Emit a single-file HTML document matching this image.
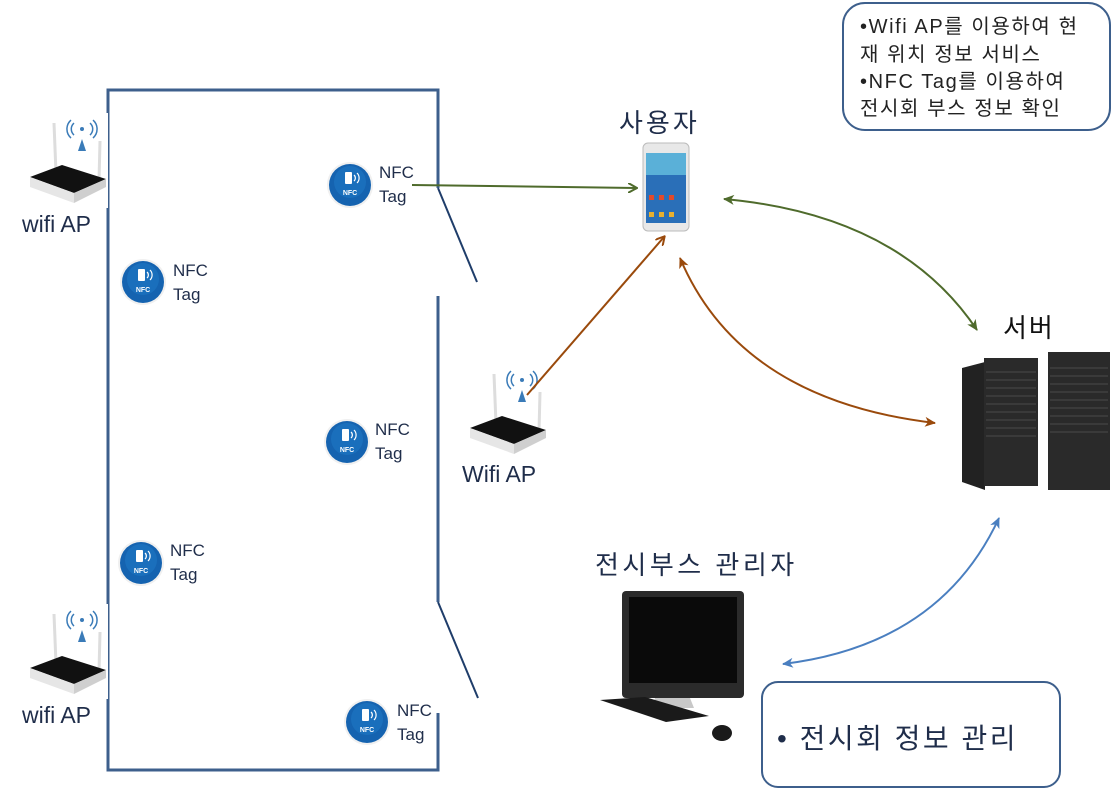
<!DOCTYPE html>
<html><head><meta charset="utf-8"><style>
html,body{margin:0;padding:0;background:#fff;}
svg{display:block;font-family:"Liberation Sans","Noto Sans CJK KR",sans-serif;}
</style></head><body>
<svg width="1115" height="812" viewBox="0 0 1115 812" xmlns="http://www.w3.org/2000/svg">
<defs>
<g id="router">
  <rect x="0" y="0" width="100" height="95" fill="#fff"/>
  <line x1="46" y1="10" x2="48" y2="60" stroke="#ddd" stroke-width="3"/>
  <line x1="92" y1="28" x2="91" y2="68" stroke="#ddd" stroke-width="3"/>
  <path d="M22 64 L54 52 L98 66 L66 80 Z" fill="#111"/>
  <path d="M22 64 L66 80 L66 90 L22 74 Z" fill="#e6e6e6"/>
  <path d="M66 80 L98 66 L98 74 L66 90 Z" fill="#cfcfcf"/>
  <path d="M70 38 L74 26 L78 38 Z" fill="#3a7bb8"/>
  <path d="M66 22 a8 8 0 0 1 0 -12 M82 10 a8 8 0 0 1 0 12 M63 25 a12 12 0 0 1 0 -18 M85 7 a12 12 0 0 1 0 18" fill="none" stroke="#3a7bb8" stroke-width="1.5"/>
  <circle cx="74" cy="16" r="2" fill="#3a7bb8"/>
</g>
<g id="nfc">
  <circle cx="0" cy="0" r="23" fill="#f0f0f0"/>
  <circle cx="0" cy="0" r="21" fill="#1563b0"/>
  <circle cx="0" cy="-3" r="16" fill="#1e78c4" opacity="0.6"/>
  <rect x="-5" y="-13" width="7" height="12" rx="1" fill="#fff"/>
  <path d="M4 -10 a4 4 0 0 1 0 6 M7 -12 a7 7 0 0 1 0 10" stroke="#fff" fill="none" stroke-width="1.2"/>
  <text x="0" y="10" font-size="7" font-weight="bold" fill="#fff" text-anchor="middle">NFC</text>
</g>
<marker id="ag" markerWidth="10" markerHeight="10" refX="8" refY="5" orient="auto-start-reverse" markerUnits="userSpaceOnUse"><path d="M0 0 L9 5 L0 10" fill="none" stroke="#4f6b2c" stroke-width="2"/></marker>
<marker id="agf" markerWidth="12" markerHeight="12" refX="10" refY="6" orient="auto-start-reverse" markerUnits="userSpaceOnUse"><path d="M0 1 L11 6 L0 11 L3 6Z" fill="#4f6b2c"/></marker>
<marker id="ab" markerWidth="12" markerHeight="12" refX="10" refY="6" orient="auto-start-reverse" markerUnits="userSpaceOnUse"><path d="M0 1 L11 6 L0 11 L3 6Z" fill="#9a4a0c"/></marker>
<marker id="abo" markerWidth="10" markerHeight="10" refX="8" refY="5" orient="auto-start-reverse" markerUnits="userSpaceOnUse"><path d="M0 0 L9 5 L0 10" fill="none" stroke="#9a4a0c" stroke-width="2"/></marker>
<marker id="abl" markerWidth="12" markerHeight="12" refX="10" refY="6" orient="auto-start-reverse" markerUnits="userSpaceOnUse"><path d="M0 1 L11 6 L0 11 L3 6Z" fill="#4a7fc0"/></marker>
</defs>

<!-- outline -->
<g stroke="#3d5f8c" stroke-width="3" fill="none">
  <polyline points="438,188 438,90 108,90 108,770 438,770 438,713"/>
  <line x1="438" y1="296" x2="438" y2="602"/>
</g>
<g stroke="#1f3d6a" stroke-width="2">
  <line x1="438" y1="188" x2="477" y2="282"/>
  <line x1="438" y1="602" x2="478" y2="698"/>
</g>

<use href="#router" x="8" y="113"/>
<use href="#router" x="8" y="604"/>
<use href="#router" x="448" y="364"/>

<text x="22" y="232" font-size="23" fill="#1f2d4a">wifi  AP</text>
<text x="22" y="723" font-size="23" fill="#1f2d4a">wifi  AP</text>
<text x="462" y="482" font-size="23" fill="#1f2d4a">Wifi  AP</text>

<use href="#nfc" x="350" y="185"/>
<use href="#nfc" x="143" y="282"/>
<use href="#nfc" x="347" y="442"/>
<use href="#nfc" x="141" y="563"/>
<use href="#nfc" x="367" y="722"/>
<g font-size="17" fill="#1f2d4a">
<text x="379" y="178">NFC</text><text x="379" y="202">Tag</text>
<text x="173" y="276">NFC</text><text x="173" y="300">Tag</text>
<text x="375" y="435">NFC</text><text x="375" y="459">Tag</text>
<text x="170" y="556">NFC</text><text x="170" y="580">Tag</text>
<text x="397" y="716">NFC</text><text x="397" y="740">Tag</text>
</g>

<!-- phone -->
<text x="619" y="132" font-size="26" letter-spacing="3" fill="#1f2d4a">사용자</text>
<rect x="643" y="143" width="46" height="88" rx="5" fill="#e8e8e8" stroke="#bbb"/>
<rect x="646" y="153" width="40" height="70" fill="#2a6fb8"/>
<rect x="646" y="153" width="40" height="22" fill="#5ab0d8"/>
<g fill="#e24a2a"><rect x="649" y="195" width="5" height="5"/><rect x="659" y="195" width="5" height="5"/><rect x="669" y="195" width="5" height="5"/></g>
<g fill="#e8b030"><rect x="649" y="212" width="5" height="5"/><rect x="659" y="212" width="5" height="5"/><rect x="669" y="212" width="5" height="5"/></g>

<!-- server -->
<text x="1003" y="337" font-size="26" letter-spacing="2" fill="#111">서버</text>
<path d="M962 368 L985 362 L985 490 L962 482 Z" fill="#222"/>
<rect x="984" y="358" width="54" height="128" fill="#2a2a2a"/>
<rect x="1048" y="352" width="62" height="138" fill="#2a2a2a"/>
<g stroke="#4a4a4a" stroke-width="1">
<line x1="986" y1="372" x2="1036" y2="372"/><line x1="986" y1="380" x2="1036" y2="380"/><line x1="986" y1="388" x2="1036" y2="388"/><line x1="986" y1="396" x2="1036" y2="396"/><line x1="986" y1="404" x2="1036" y2="404"/><line x1="986" y1="412" x2="1036" y2="412"/><line x1="986" y1="420" x2="1036" y2="420"/><line x1="986" y1="428" x2="1036" y2="428"/><line x1="986" y1="436" x2="1036" y2="436"/>
<line x1="1050" y1="368" x2="1108" y2="368"/><line x1="1050" y1="376" x2="1108" y2="376"/><line x1="1050" y1="384" x2="1108" y2="384"/><line x1="1050" y1="392" x2="1108" y2="392"/><line x1="1050" y1="400" x2="1108" y2="400"/><line x1="1050" y1="408" x2="1108" y2="408"/><line x1="1050" y1="416" x2="1108" y2="416"/><line x1="1050" y1="424" x2="1108" y2="424"/><line x1="1050" y1="432" x2="1108" y2="432"/>
</g>

<!-- computer -->
<text x="595" y="574" font-size="26" letter-spacing="3.5" fill="#1f2d4a">전시부스 관리자</text>
<rect x="622" y="591" width="122" height="107" rx="4" fill="#2b2b2b"/>
<rect x="629" y="597" width="108" height="86" fill="#0a0a0a"/>
<path d="M655 698 L690 698 L694 708 L652 708 Z" fill="#c8c8c8"/>
<path d="M600 700 L645 697 L709 716 L666 722 Z" fill="#1a1a1a"/>
<ellipse cx="722" cy="733" rx="10" ry="8" fill="#1a1a1a"/>

<!-- arrows -->
<line x1="412" y1="185" x2="636" y2="188" stroke="#4f6b2c" stroke-width="2" marker-end="url(#ag)"/>
<path d="M724 199 Q900 215 977 330" stroke="#4f6b2c" stroke-width="2" fill="none" marker-start="url(#agf)" marker-end="url(#agf)"/>
<line x1="527" y1="395" x2="664" y2="237" stroke="#9a4a0c" stroke-width="2" marker-end="url(#abo)"/>
<path d="M680 258 Q740 400 935 423" stroke="#9a4a0c" stroke-width="2" fill="none" marker-start="url(#ab)" marker-end="url(#ab)"/>
<path d="M783 664 Q940 645 999 518" stroke="#4a7fc0" stroke-width="2" fill="none" marker-start="url(#abl)" marker-end="url(#abl)"/>

<!-- boxes -->
<rect x="843" y="3" width="267" height="127" rx="22" fill="#fff" stroke="#3d5f8c" stroke-width="2"/>
<g font-size="20" fill="#222" letter-spacing="1.6">
<text x="860" y="33">•Wifi AP를 이용하여 현</text>
<text x="860" y="61">재 위치 정보 서비스</text>
<text x="860" y="88">•NFC Tag를 이용하여</text>
<text x="860" y="115">전시회 부스 정보 확인</text>
</g>
<rect x="762" y="682" width="298" height="105" rx="16" fill="#fff" stroke="#3d5f8c" stroke-width="2"/>
<text x="777" y="748" font-size="28" letter-spacing="2.5" fill="#1f2d4a">• 전시회 정보 관리</text>
</svg>
</body></html>
